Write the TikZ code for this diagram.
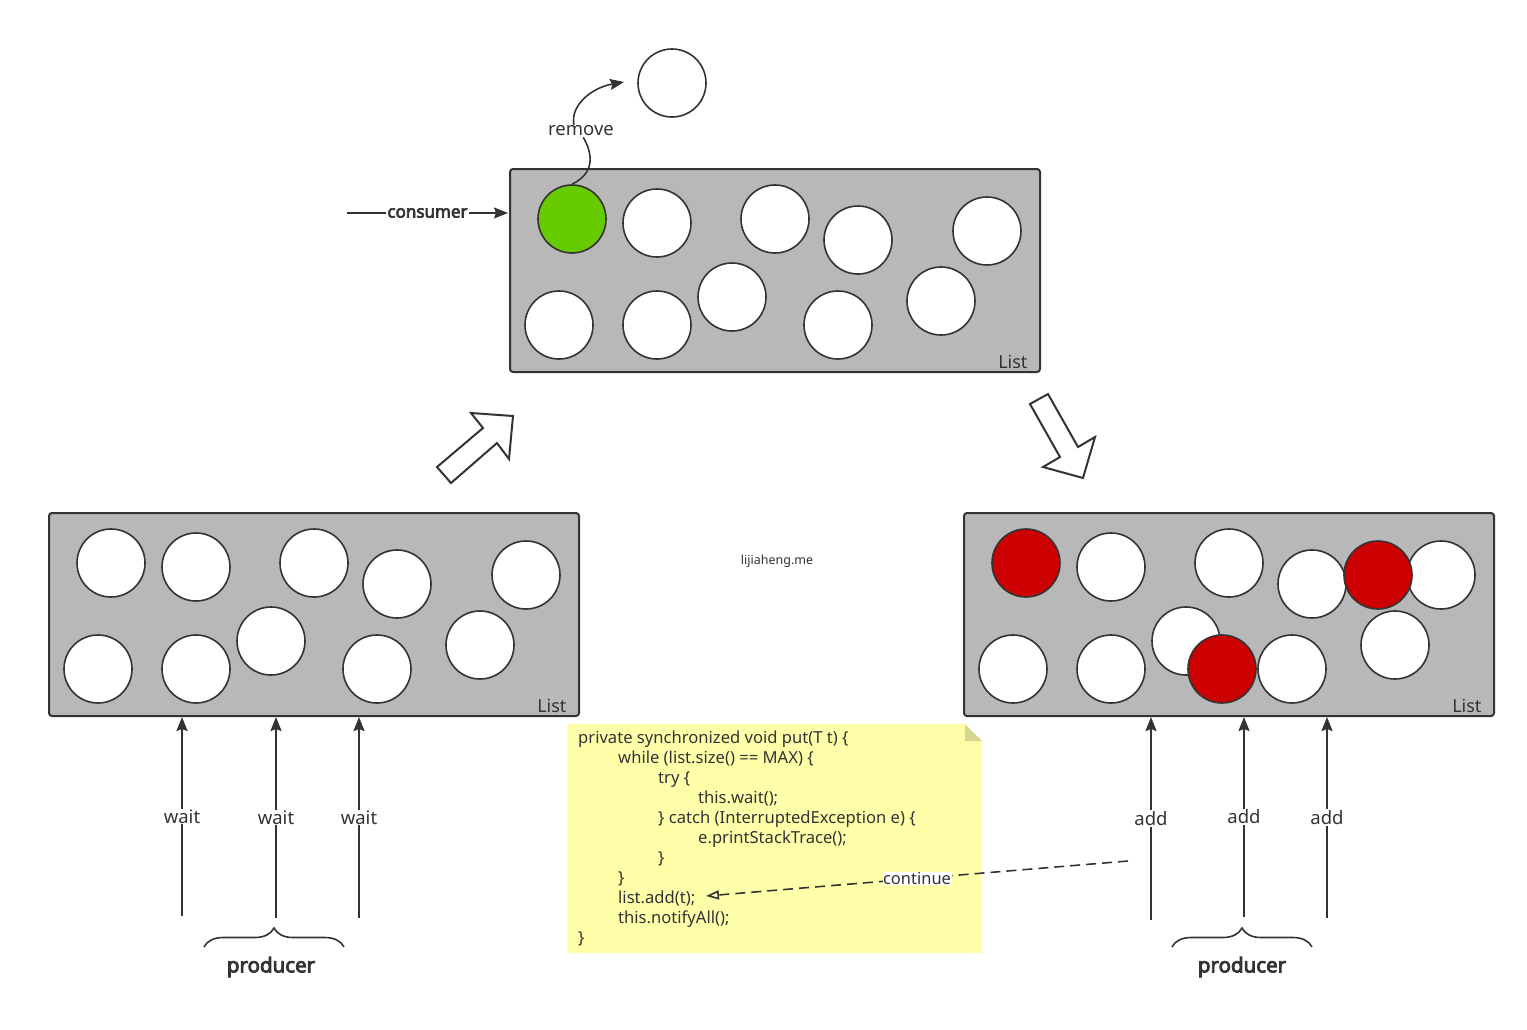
\documentclass[tikz,border=0pt]{standalone}
\usepackage{fontspec}
\setmainfont{Noto Sans}
\newfontfamily\heavy{Noto Sans}[FakeBold=4]
\usetikzlibrary{positioning, arrows.meta, decorations.pathreplacing}
\definecolor{ink}{HTML}{333333}
\definecolor{boxgray}{HTML}{B8B8B8}
\definecolor{ballgreen}{HTML}{66CC00}
\definecolor{ballred}{HTML}{CC0000}
\definecolor{note}{HTML}{FFFFAA}
\definecolor{notefold}{HTML}{D6D68C}
\tikzset{
>={Stealth[length=14pt,width=11pt,inset=2pt]}, % filled arrow heads
list/.style={draw=ink, line width=2pt, fill=boxgray, rounded corners=3pt, minimum width=530pt, minimum height=203pt}, % the List boxes
ball/.style={circle, draw=ink, line width=1.6pt, fill=white, minimum size=68pt, inner sep=0pt}, % one element
lbl/.style={fill=white, text=ink, inner sep=1pt, font=\fontsize{18.5}{20}\selectfont}, % text on a connector
flow/.style={->, draw=ink, line width=2pt}, % wait / add / consumer
bigarrow/.style={draw=ink, line width=2pt, fill=white, line join=miter},
curly/.style={draw=ink, line width=1.6pt, decorate, decoration={brace, amplitude=19pt}},
}
\begin{document}
\begin{tikzpicture}[x=1pt, y=-1pt]
\useasboundingbox (0,0) rectangle (1527,1029);

% the three lists
\node[list] (top) at (775,270.5) {};
\node[list] (left) at (314,614.5) {};
\node[list] (right) at (1229,614.5) {};
\node[text=ink, font=\fontsize{18}{20}\selectfont, anchor=base east] (toplist) at ([xshift=-10pt, yshift=5pt]top.south east) {List};
\node[text=ink, font=\fontsize{18}{20}\selectfont, anchor=base east] (leftlist) at ([xshift=-10pt, yshift=5pt]left.south east) {List};
\node[text=ink, font=\fontsize{18}{20}\selectfont, anchor=base east] (rightlist) at ([xshift=-10pt, yshift=5pt]right.south east) {List};

% elements of the top list
\begin{scope}[shift={(509,168)}]
\node[ball, fill=ballgreen] (ta) at (63,51) {};
\foreach \n/\px/\py in {b/148/55, c/266/51, d/349/72, e/478/63, f/50/157, g/148/157, h/223/129, i/329/157, j/432/133}
  \node[ball] (t\n) at (\px,\py) {};
\end{scope}

% elements of the left list
\begin{scope}[shift={(48,512)}]
\foreach \n/\px/\py in {a/63/51, b/148/55, c/266/51, d/349/72, e/478/63, f/50/157, g/148/157, h/223/129, i/329/157, j/432/133}
  \node[ball] (l\n) at (\px,\py) {};
\end{scope}

% elements of the right list
\begin{scope}[shift={(963,512)}]
\foreach \n/\px/\py in {b/148/55, c/266/51, d/349/72, e/478/63, f/50/157, g/148/157, h/223/129, i/329/157, j/432/133}
  \node[ball] (r\n) at (\px,\py) {};
\node[ball, fill=ballred] (ra) at (63,51) {};
\node[ball, fill=ballred] (rk) at (415,63) {};
\node[ball, fill=ballred] (rl) at (259,157) {};
\end{scope}

% removed element
\node[ball] (gone) at (672,83) {};
\coordinate (goneTip) at (624,82);
\node[lbl] (rm) at (581,131) {remove};
\draw[draw=ink, line width=1.6pt] (ta.north) .. controls +(25,-12) and +(8,14) .. (rm.-70);
\draw[flow, line width=1.6pt] ([xshift=-7pt]rm.north) .. controls +(-4,-18) and +(-34,6) .. (goneTip);

% consumer
\coordinate (consIn) at (347,213);
\coordinate (consOut) at (508,213);
\draw[flow, line width=1.6pt] (consIn) -- node[lbl, font=\heavy\fontsize{17}{20}\selectfont] (cons) {consumer} (consOut);

% hollow arrows between the lists
\draw[bigarrow] (437,467) -- (483,428) -- (471,413) -- (513,416) -- (509,459) -- (497,443) -- (451,483) -- cycle;
\draw[bigarrow] (1030,404) -- (1048,394) -- (1078,447) -- (1095,437) -- (1083,478) -- (1043,467) -- (1060,457) -- cycle;

\node[text=ink, font=\fontsize{12.5}{14}\selectfont] (mark) at (777,561) {lijiaheng.me};

% producers that wait
\coordinate (w1) at (182,916);
\coordinate (w2) at (276,918);
\coordinate (w3) at (359,918);
\draw[flow] (w1) -- node[lbl] {wait} (w1 |- left.south);
\draw[flow] (w2) -- node[lbl] {wait} (w2 |- left.south);
\draw[flow] (w3) -- node[lbl] {wait} (w3 |- left.south);
\draw[curly] (204,947) -- (344,947);
\node[text=ink, font=\heavy\fontsize{20.5}{24}\selectfont] (prodL) at (271,967) {producer};

% producers that add
\coordinate (a1) at (1151,920);
\coordinate (a2) at (1244,917);
\coordinate (a3) at (1327,918);
\draw[flow] (a1) -- node[lbl] {add} (a1 |- right.south);
\draw[flow] (a2) -- node[lbl] {add} (a2 |- right.south);
\draw[flow] (a3) -- node[lbl] {add} (a3 |- right.south);
\draw[curly] (1172,947) -- (1312,947);
\node[text=ink, font=\heavy\fontsize{20.5}{24}\selectfont] (prodR) at (1242,967) {producer};

% the note with the code
\fill[note] (568,724) -- (965,724) -- (982,741) -- (982,953) -- (568,953) -- cycle;
\fill[notefold] (965,724) -- (982,741) -- (965,741) -- cycle;
\node[text=ink, font=\fontsize{16.6}{20}\selectfont, align=left, anchor=north west, inner sep=0pt] (code) at (578,731) {%
private synchronized void put(T t) \{\\
\hspace*{40pt}while (list.size() == MAX) \{\\
\hspace*{80pt}try \{\\
\hspace*{120pt}this.wait();\\
\hspace*{80pt}\} catch (InterruptedException e) \{\\
\hspace*{120pt}e.printStackTrace();\\
\hspace*{80pt}\}\\
\hspace*{40pt}\}\\
\hspace*{40pt}list.add(t);\\
\hspace*{40pt}this.notifyAll();\\
\}};

% back to list.add
\coordinate (contFrom) at (1128,861);
\coordinate (contTo) at (706,896);
\draw[draw=ink, line width=1.6pt, dash pattern=on 10pt off 6pt, -{Triangle[open, length=13pt, width=9pt, line width=1.6pt]}] (contFrom) -- node[lbl, inner sep=0.5pt, font=\fontsize{16.5}{18}\selectfont] (cont) {continue} (contTo);
\end{tikzpicture}
\end{document}
